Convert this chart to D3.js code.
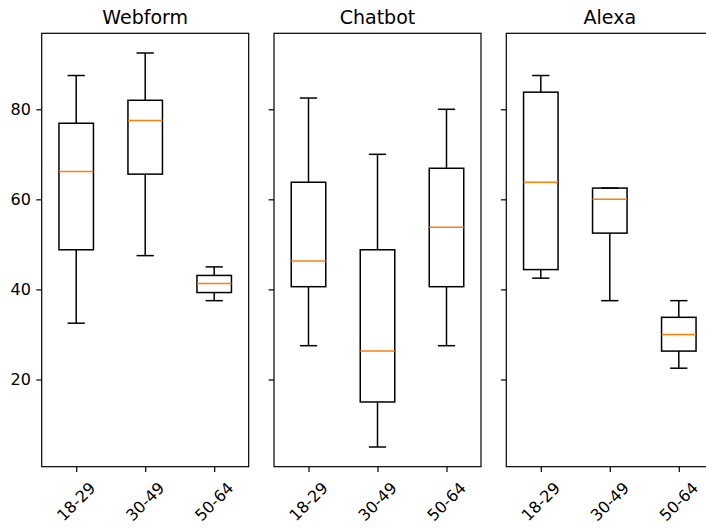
<!DOCTYPE html>
<html>
<head>
<meta charset="utf-8">
<script src="https://cdn.jsdelivr.net/npm/d3@7"></script>
<style>
  body { margin: 0; background: #fff; }
  text { font-family: "DejaVu Sans", sans-serif; fill: #000; }
</style>
</head>
<body>
<div class="chartDiv"></div>
<script>
// channels and age groups
var channels = ["Webform", "Chatbot", "Alexa"];
var ageGroups = ["18-29", "30-49", "50-64"];
var yTicks = [20, 40, 60, 80];

// box stats per channel, one entry per age group: [lowWhisker, q1, median, q3, highWhisker]
var webformStats = [[32.5, 48.8, 66.2, 76.9, 87.5], [47.5, 65.6, 77.5, 82.0, 92.5], [37.5, 39.3, 41.3, 43.1, 45.0]];
var chatbotStats = [[27.5, 40.6, 46.3, 63.8, 82.5], [5.0, 15.0, 26.3, 48.8, 70.0], [27.5, 40.6, 53.8, 66.9, 80.0]];
var alexaStats   = [[42.5, 44.4, 63.8, 83.8, 87.5], [37.5, 52.5, 60.0, 62.5, 62.5], [22.5, 26.3, 30.0, 33.8, 37.5]];
var allStats = [webformStats, chatbotStats, alexaStats];

var W = 706, H = 530;
var margin = {top: 33.3, left: 41.7, bottom: 63.3},
    panelW = 207, gap = 25.3,
    plotH = H - margin.top - margin.bottom;

var svg = d3.select('div.chartDiv').append('svg')
  .attr('width', W).attr('height', H);

// shared y scale with matplotlib-like 5% padding
var lo = d3.min(allStats, function(s) { return d3.min(s, function(d) { return d[0]; }); }),
    hi = d3.max(allStats, function(s) { return d3.max(s, function(d) { return d[4]; }); }),
    pad = (hi - lo) * 0.05;
var y = d3.scaleLinear().domain([lo - pad, hi + pad]).range([plotH, 0]);

var x = d3.scalePoint().domain(ageGroups).range([0, panelW]).padding(0.5);
var boxW = x.step() * 0.5, capW = boxW * 0.5;
var tickFont = 16, titleFont = 19;

channels.forEach(function(name, p) {
  var g = svg.append('g')
    .attr('transform', 'translate(' + (margin.left + p * (panelW + gap)) + ',' + margin.top + ')');

  // y axis ticks (labels only on the first panel)
  var yAxis = d3.axisLeft(y).tickValues(yTicks).tickSize(5.4).tickPadding(5.4)
    .tickFormat(p === 0 ? d3.format('d') : function() { return ''; });
  var ya = g.append('g').call(yAxis);
  ya.select('.domain').remove();
  ya.selectAll('line').attr('stroke', '#000').attr('stroke-width', 1.2);
  ya.selectAll('text').attr('font-size', tickFont).attr('font-family', 'DejaVu Sans');

  // x axis ticks with 45 degree labels
  var xAxis = d3.axisBottom(x).tickSize(5.4).tickFormat('');
  var xa = g.append('g').attr('transform', 'translate(0,' + plotH + ')').call(xAxis);
  xa.select('.domain').remove();
  xa.selectAll('line').attr('stroke', '#000').attr('stroke-width', 1.2);

  ageGroups.forEach(function(a) {
    var t = g.append('text').text(a)
      .attr('font-size', tickFont)
      .attr('text-anchor', 'middle')
      .attr('dominant-baseline', 'central');
    var tw = t.node().getComputedTextLength(), th = tickFont * 1.16;
    var bh = (tw + th) / Math.SQRT2;
    var cy = plotH + 12 + bh / 2;
    t.attr('transform', 'translate(' + x(a) + ',' + cy + ') rotate(-45)');
  });

  // boxes
  var stats = allStats[p];
  var bx = g.selectAll('g.box').data(stats).enter().append('g').attr('class', 'box');
  bx.append('line').attr('class', 'whiskerLow')
    .attr('x1', function(d, i) { return x(ageGroups[i]); })
    .attr('x2', function(d, i) { return x(ageGroups[i]); })
    .attr('y1', function(d) { return y(d[0]); })
    .attr('y2', function(d) { return y(d[1]); });
  bx.append('line').attr('class', 'whiskerHigh')
    .attr('x1', function(d, i) { return x(ageGroups[i]); })
    .attr('x2', function(d, i) { return x(ageGroups[i]); })
    .attr('y1', function(d) { return y(d[3]); })
    .attr('y2', function(d) { return y(d[4]); });
  [0, 4].forEach(function(k) {
    bx.append('line').attr('class', 'cap')
      .attr('x1', function(d, i) { return x(ageGroups[i]) - capW / 2; })
      .attr('x2', function(d, i) { return x(ageGroups[i]) + capW / 2; })
      .attr('y1', function(d) { return y(d[k]); })
      .attr('y2', function(d) { return y(d[k]); });
  });
  bx.append('rect')
    .attr('x', function(d, i) { return x(ageGroups[i]) - boxW / 2; })
    .attr('y', function(d) { return y(d[3]); })
    .attr('width', boxW)
    .attr('height', function(d) { return y(d[1]) - y(d[3]); })
    .attr('fill', 'none');
  bx.selectAll('line, rect').attr('stroke', '#000').attr('stroke-width', 1.5);
  bx.append('line').attr('class', 'median')
    .attr('x1', function(d, i) { return x(ageGroups[i]) - boxW / 2; })
    .attr('x2', function(d, i) { return x(ageGroups[i]) + boxW / 2; })
    .attr('y1', function(d) { return y(d[2]); })
    .attr('y2', function(d) { return y(d[2]); })
    .attr('stroke', '#ff7f0e').attr('stroke-width', 1.5);

  // frame
  g.append('rect').attr('width', panelW).attr('height', plotH)
    .attr('fill', 'none').attr('stroke', '#000').attr('stroke-width', 1.2);

  // title
  g.append('text').text(name)
    .attr('x', panelW / 2).attr('y', -9.2)
    .attr('text-anchor', 'middle')
    .attr('font-size', titleFont);
});
</script>
</body>
</html>
